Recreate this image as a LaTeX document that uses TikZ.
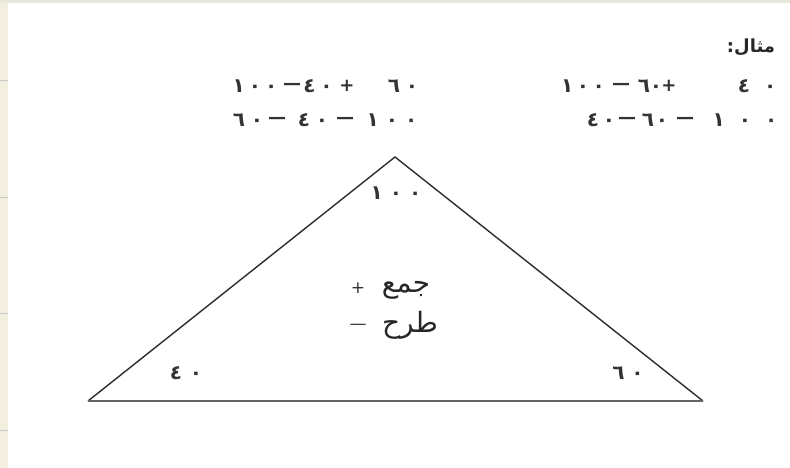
\documentclass[tikz,border=0pt]{standalone}
\usepackage{fontspec}
\TeXXeTstate=1
\newfontfamily\arabicfont[Script=Arabic]{DejaVu Sans}
\newcommand\gp[1]{\hspace{#1pt}}
\definecolor{stripbg}{RGB}{242,239,225}
\definecolor{stripbgtop}{RGB}{233,231,218}
\definecolor{tickgray}{RGB}{200,200,200}
\definecolor{inkline}{RGB}{45,45,45}
\begin{document}
\begin{tikzpicture}[x=1pt,y=-1pt,
  num/.style={font=\arabicfont\bfseries\fontsize{20}{20}\selectfont, inner sep=0pt, text=black!80},
  op/.style={font=\arabicfont\bfseries\fontsize{18}{18}\selectfont, inner sep=0pt, text=black!80},
  sign/.style={font=\arabicfont\fontsize{17}{17}\selectfont, inner sep=0pt, text=black!80},
  word/.style={font=\arabicfont\fontsize{28}{28}\selectfont, inner sep=0pt, text=black!85},
  title/.style={font=\arabicfont\bfseries\fontsize{18}{18}\selectfont, inner sep=0pt, text=black!85},
  edge/.style={draw=inkline, line width=1.4pt, line join=miter}]
\useasboundingbox (0,0) rectangle (790,468);
% page background and left/top strips
\fill[white] (0,0) rectangle (790,468);
\fill[stripbg] (0,0) rectangle (8,468);
\fill[stripbgtop] (0,0) rectangle (790,3);
\foreach \ty in {80,197,313,430} \draw[tickgray, line width=0.8pt] (0,\ty) -- (8,\ty);
% title
\node[title] (mithal) at (751,47) {\beginR مثال:\endR};
% right column, line 1
\node[num] (r1a) at (583,86) {١\gp{3.5}٠\gp{3.5}٠};
\node[op]  (r1b) at (621,86) {—};
\node[num] (r1c) at (650,86) {٦٠};
\node[op]  (r1d) at (669,86) {+};
\node[num] (r1e) at (757,86) {٤\gp{14}٠};
% right column, line 2
\node[num] (r2a) at (601,120) {٤\gp{4}٠};
\node[op]  (r2b) at (627,120) {—};
\node[num] (r2c) at (655,120) {٦\gp{2}٠};
\node[op]  (r2d) at (685,120) {—};
\node[num] (r2e) at (745,120) {١\gp{14}٠\gp{14}٠};
% left column, line 1
\node[num] (l1a) at (255,86) {١\gp{4}٠\gp{4}٠};
\node[op]  (l1b) at (292,86) {—};
\node[num] (l1c) at (318,86) {٤\gp{5}٠};
\node[op]  (l1d) at (347,86) {+};
\node[num] (l1e) at (403,86) {٦\gp{6}٠};
% left column, line 2
\node[num] (l2a) at (248,120) {٦\gp{6}٠};
\node[op]  (l2b) at (277,120) {—};
\node[num] (l2c) at (313,120) {٤\gp{6}٠};
\node[op]  (l2d) at (345,120) {—};
\node[num] (l2e) at (392,120) {١\gp{7}٠\gp{7}٠};
% triangle
\coordinate (apex) at (395,157);
\coordinate (bl) at (88,401);
\coordinate (br) at (703,401);
\draw[edge] (bl) -- (apex) -- (br);
\draw[draw=black!60, line width=2pt] (bl) -- (br);
% triangle labels
\node[num] (top) at (396,193) {١\gp{7}٠\gp{7}٠};
\node[num] (left) at (186,373) {٤\gp{8}٠};
\node[num] (right) at (628,373) {٦\gp{7}٠};
% centre words
\node[sign] (plus)  at (358,288) {+};
\node[word] (jam)   at (406,290) {\beginR جمع\endR};
\node[sign] (minus) at (358,327) {—};
\node[word] (tarh)  at (410,325) {\beginR طرح\endR};
\end{tikzpicture}
\end{document}
